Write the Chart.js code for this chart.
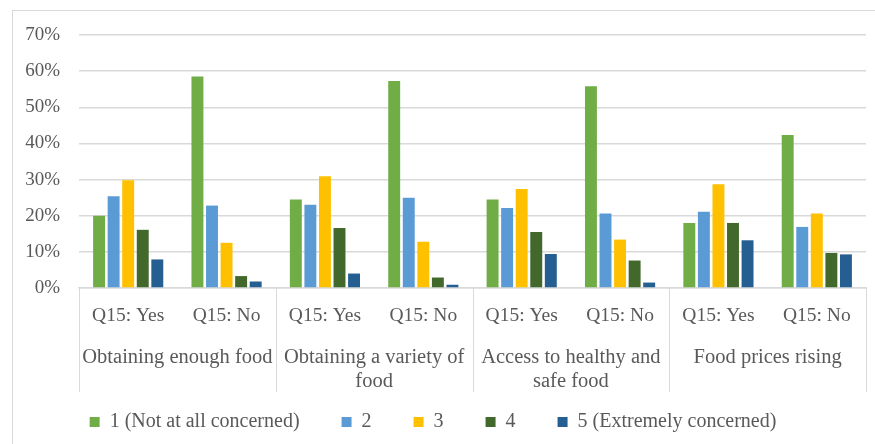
<!DOCTYPE html>
<html>
<head>
<meta charset="utf-8">
<script src="https://cdn.jsdelivr.net/npm/chart.js@4.4.0/dist/chart.umd.min.js"></script>
<style>
  html, body { margin: 0; padding: 0; background: #ffffff; }
  #wrap { position: relative; width: 875px; height: 444px; overflow: hidden; }
  #frame { position: absolute; left: 12px; top: 10px; width: 900px; height: 500px; border: 1px solid #d9d9d9; box-sizing: border-box; }
  #c { position: absolute; left: 0; top: 0; }
</style>
</head>
<body>
<div id="wrap">
  <div id="frame"></div>
  <canvas id="c" width="875" height="444"></canvas>
</div>
<script>
// ---- data ----
const categories = ['Q15: Yes', 'Q15: No', 'Q15: Yes', 'Q15: No', 'Q15: Yes', 'Q15: No', 'Q15: Yes', 'Q15: No'];
const groupLabels = [['Obtaining enough food'], ['Obtaining a variety of', 'food'], ['Access to healthy and', 'safe food'], ['Food prices rising']];
const seriesNames = ['1 (Not at all concerned)', '2', '3', '4', '5 (Extremely concerned)'];
const level1 = [20.0, 58.5, 24.5, 57.3, 24.5, 55.8, 18.0, 42.3];
const level2 = [25.4, 22.8, 23.0, 25.0, 22.1, 20.6, 21.1, 16.9];
const level3 = [29.8, 12.5, 30.9, 12.8, 27.4, 13.4, 28.7, 20.6];
const level4 = [16.1, 3.3, 16.6, 2.9, 15.5, 7.6, 18.0, 9.7];
const level5 = [7.9, 1.8, 4.0, 0.9, 9.4, 1.5, 13.2, 9.3];
const yTicks = [0, 10, 20, 30, 40, 50, 60, 70];

// ---- styles ----
const colors = ['#70AD47', '#5B9BD5', '#FFC000', '#43682B', '#255E91'];
const textColor = '#595959';
const gridColor = '#d9d9d9';
const fontFamily = '"Liberation Serif", "Times New Roman", serif';

const seriesValues = [level1, level2, level3, level4, level5];
const datasets = seriesValues.map((vals, i) => ({
  label: seriesNames[i],
  data: vals,
  backgroundColor: colors[i],
  borderWidth: 0,
  xAxisID: 'x',
  yAxisID: 'y',
  barPercentage: 0.82,
  categoryPercentage: 0.74
}));

const dividerPlugin = {
  id: 'dividers',
  afterDraw(chart) {
    const s = chart.scales.x2;
    const ctx = chart.ctx;
    const n = groupLabels.length;
    const half = (s.getPixelForValue(1) - s.getPixelForValue(0)) / 2;
    ctx.save();
    ctx.strokeStyle = gridColor;
    ctx.lineWidth = 1;
    for (let k = 0; k <= n; k++) {
      const px = k < n ? s.getPixelForValue(k) - half : s.getPixelForValue(n - 1) + half;
      const xx = Math.round(px) + 0.5;
      ctx.beginPath();
      ctx.moveTo(xx, chart.chartArea.bottom);
      ctx.lineTo(xx, 392);
      ctx.stroke();
    }
    ctx.restore();
  }
};

new Chart(document.getElementById('c'), {
  type: 'bar',
  data: { labels: categories, datasets },
  plugins: [dividerPlugin],
  options: {
    responsive: false,
    animation: false,
    devicePixelRatio: 1,
    layout: { padding: { left: 0, right: 9, top: 35, bottom: 2 } },
    plugins: {
      tooltip: { enabled: false },
      legend: {
        position: 'bottom',
        align: 'center',
        labels: {
          color: textColor,
          font: { family: fontFamily, size: 20 },
          boxWidth: 10,
          boxHeight: 10,
          padding: 12,
          generateLabels(chart) {
            const items = Chart.defaults.plugins.legend.labels.generateLabels(chart);
            items.forEach((it, i) => {
              it.lineWidth = 0;
              if (i < items.length - 1) it.text = it.text + '      ';
            });
            return items;
          }
        }
      }
    },
    scales: {
      y: {
        min: 0,
        max: 70,
        afterBuildTicks(scale) { scale.ticks = yTicks.map(v => ({ value: v })); },
        afterFit(scale) { scale.width = 79; },
        border: { display: false },
        grid: { color: gridColor, lineWidth: 1.5, drawTicks: false },
        ticks: {
          color: textColor,
          font: { family: fontFamily, size: 19 },
          padding: 19,
          callback: v => v + '%'
        }
      },
      x: {
        position: 'bottom',
        weight: 0,
        afterFit(scale) { scale.height = 40; },
        grid: { display: false, drawTicks: false },
        border: { display: true, color: gridColor, width: 1.5 },
        ticks: {
          color: textColor,
          font: { family: fontFamily, size: 19.5, lineHeight: 1.25 },
          padding: 16,
          maxRotation: 0,
          autoSkip: false
        }
      },
      x2: {
        type: 'category',
        position: 'bottom',
        weight: 1,
        labels: groupLabels,
        offset: true,
        afterFit(scale) { scale.height = 72; },
        grid: { display: false, drawTicks: false },
        border: { display: false },
        ticks: {
          color: textColor,
          font: { family: fontFamily, size: 20.5, lineHeight: '24px' },
          padding: 18,
          maxRotation: 0,
          autoSkip: false
        }
      }
    }
  }
});
</script>
</body>
</html>
